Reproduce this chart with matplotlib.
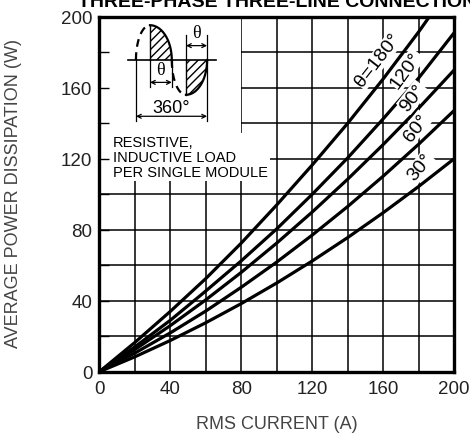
import matplotlib
matplotlib.use('Agg')
import matplotlib.pyplot as plt
import numpy as np
from matplotlib.patches import Rectangle, Polygon
from matplotlib.ticker import MultipleLocator

plt.rcParams['font.family'] = ['Liberation Sans', 'DejaVu Sans']

# ---------------- data ----------------
current = [0, 20, 40, 60, 80, 100, 120, 140, 160, 180, 200]
current_180 = [0, 20, 40, 60, 80, 100, 120, 140, 160, 180, 186]
p_180 = [0, 16.5, 34, 52.5, 72.5, 94, 116.5, 140, 165, 191.5, 200]
p_120 = [0, 14, 29, 45.5, 62.5, 80.5, 100, 120.5, 142.5, 165.5, 191]
p_90 = [0, 12.5, 26, 40.5, 56, 72.5, 90, 108.5, 128, 148.5, 170]
p_60 = [0, 10.5, 21.9, 34.2, 47.6, 61.8, 77, 93.1, 110.2, 128.2, 147.2]
p_30 = [0, 8.4, 17.6, 27.6, 38.4, 50, 62.4, 75.6, 89.6, 104.4, 120]

curve_labels = ['θ=180°', '120°', '90°', '60°', '30°']
x_tick_labels = ['0', '40', '80', '120', '160', '200']
y_tick_labels = ['0', '40', '80', '120', '160', '200']

title = 'THREE-PHASE THREE-LINE CONNECTION'
xlabel = 'RMS CURRENT (A)'
ylabel = 'AVERAGE POWER DISSIPATION (W)'
note = 'RESISTIVE,\nINDUCTIVE LOAD\nPER SINGLE MODULE'

# ---------------- figure ----------------
fig = plt.figure(figsize=(4.7, 4.35), dpi=100)
ax = fig.add_axes([0.2115, 0.1432, 0.7549, 0.8161])
ax.set_xlim(0, 200)
ax.set_ylim(0, 200)

major = [0, 40, 80, 120, 160, 200]
ax.set_xticks(major)
ax.set_xticklabels(x_tick_labels)
ax.set_yticks(major)
ax.set_yticklabels(y_tick_labels)
ax.xaxis.set_minor_locator(MultipleLocator(20))
ax.yaxis.set_minor_locator(MultipleLocator(20))
ax.tick_params(axis='y', which='both', direction='in', length=7, width=1.0,
               left=True, right=False, pad=5, labelsize=13.5, labelcolor='#222222')
ax.tick_params(axis='x', which='both', direction='in', length=0,
               bottom=True, top=False, pad=6, labelsize=13.5, labelcolor='#222222')
ax.set_axisbelow(False)

# grid lines
for v in range(20, 200, 20):
    ax.axvline(v, color='black', lw=1.1, zorder=1)
    ax.axhline(v, color='black', lw=1.1, zorder=1)

for s in ax.spines.values():
    s.set_linewidth(2.4)
    s.set_zorder(6)

# white area behind inset
ax.add_patch(Rectangle((0, 110), 80, 90, facecolor='white', edgecolor='none', zorder=2))

# curves
for xs, ys in [(current_180, p_180), (current, p_120), (current, p_90),
               (current, p_60), (current, p_30)]:
    ax.plot(xs, ys, color='black', lw=2.3, zorder=3, solid_capstyle='butt')

# curve labels
label_pos = [(157.1, 175.6, 52), (172.8, 170.1, 54), (176.6, 154.6, 52),
             (178.5, 137.7, 52), (180.8, 115.2, 50)]
for txt, (lx, ly, rot) in zip(curve_labels, label_pos):
    ax.text(lx, ly, txt, rotation=rot, rotation_mode='anchor', ha='center', va='center',
            fontsize=14, color='black', zorder=4,
            bbox=dict(facecolor='white', edgecolor='none', pad=0.5))

# note text
ax.text(7.5, 133.5, note, ha='left', va='top', fontsize=10.5, linespacing=1.1,
        color='black', zorder=4,
        bbox=dict(facecolor='white', edgecolor='none', pad=1.5))

# ---------------- inset waveform schematic ----------------
x0, pk, mid_x, bt, end_x = 20.6, 28.5, 40.8, 48.8, 60.7
amp, base = 19.6, 175.6
s = np.linspace(0, np.pi / 2, 60)
segments = [
    (x0 + (pk - x0) * (1 - np.cos(s)), base + amp * np.sin(s), True),
    (pk + (mid_x - pk) * np.sin(s), base + amp * np.cos(s), False),
    (mid_x + (bt - mid_x) * (1 - np.cos(s)), base - amp * np.sin(s), True),
    (bt + (end_x - bt) * np.sin(s), base - amp * np.cos(s), False),
]
kw = dict(color='black', lw=1.6, zorder=5)
ax.plot([16.3, 65.8], [base, base], color='black', lw=1.2, zorder=5)
for wx, wy, dashed in segments:
    ax.plot(wx, wy, ls=(0, (3.5, 2.5)) if dashed else '-', **kw)
    if not dashed:
        poly = np.vstack([np.column_stack([wx, wy]), [[wx[-1], base], [wx[0], base]]])
        ax.add_patch(Polygon(poly, closed=True, facecolor='none', edgecolor='black',
                             hatch='////', lw=0, zorder=4.5))
        ax.plot([wx[0], wx[0]], [wy[0], base], color='black', lw=1.0, zorder=5)

lk = dict(color='black', lw=0.9, zorder=5)
arrow = dict(arrowstyle='<->', lw=0.9, color='black', mutation_scale=7, shrinkA=0, shrinkB=0)
serif = ['Liberation Serif', 'DejaVu Serif']
# upper theta
ax.plot([bt, bt], [base, 189.5], **lk)
ax.plot([end_x, end_x], [141.4, 189.5], **lk)
ax.annotate('', xy=(bt, 183.7), xytext=(end_x, 183.7), arrowprops=arrow, zorder=5)
ax.text((bt + end_x) / 2, 191.0, 'θ', ha='center', va='center', fontsize=13,
        family=serif, zorder=5)
# lower theta
ax.plot([pk, pk], [base, 160.4], **lk)
ax.plot([mid_x, mid_x], [base, 160.4], **lk)
ax.annotate('', xy=(pk, 163.0), xytext=(mid_x, 163.0), arrowprops=arrow, zorder=5)
ax.text((pk + mid_x) / 2, 170.0, 'θ', ha='center', va='center', fontsize=13,
        family=serif, zorder=5, bbox=dict(facecolor='white', edgecolor='none', pad=0.2))
# 360 degrees
ax.plot([x0, x0], [141.4, base], **lk)
ax.annotate('', xy=(x0, 143.9), xytext=(end_x, 143.9), arrowprops=arrow, zorder=5)
ax.text((x0 + end_x) / 2, 149.0, '360°', ha='center', va='center', fontsize=13, zorder=5)

# ---------------- titles ----------------
fig.text(0.5887, 0.984, title, ha='center', va='baseline', fontsize=14,
         fontweight='bold', color='black')
fig.text(0.5887, 0.023, xlabel, ha='center', va='center', fontsize=13, color='#444444')
fig.text(0.028, 0.555, ylabel, ha='center', va='center', rotation=90,
         fontsize=13, color='#444444')

fig.savefig('out.png', dpi=100)
